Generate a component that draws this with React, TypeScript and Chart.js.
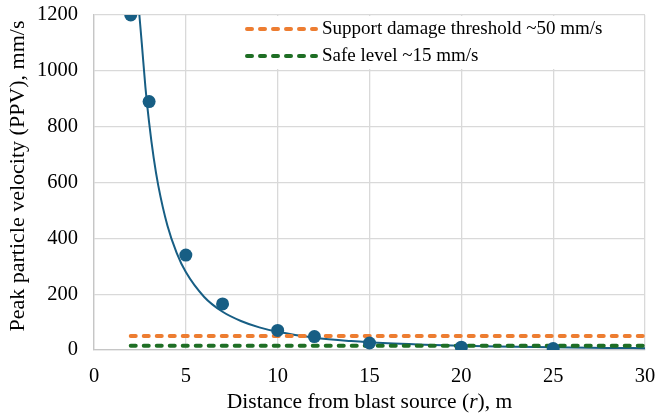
import React, { useEffect, useRef } from "react";
import { Chart, registerables } from "chart.js";

Chart.register(...registerables);

// Measured peak particle velocity at each distance
const distances = [2, 3, 5, 7, 10, 12, 15, 20, 25];
const ppvMeasured = [1200, 890, 340, 165, 70, 48, 25, 10, 5];

// Power-law trend curve samples (distance, PPV)
const trendR = [2.47, 2.6, 2.8, 3, 3.25, 3.5, 4, 4.5, 5, 6, 7, 8, 9, 10, 12, 14, 16, 18, 20, 22, 25, 28, 30];
const trendPPV = [1200, 1100, 941, 815, 688, 589, 445, 348, 279, 190, 137, 104, 81, 65, 44, 32, 24, 19, 15, 12.4, 9.5, 7.5, 6.5];

// Reference thresholds
const thresholdSpan = [2, 30];
const supportDamage = 50;
const safeLevel = 15;

const xTicks = [0, 5, 10, 15, 20, 25, 30];
const yTicks = [0, 200, 400, 600, 800, 1000, 1200];

const BLUE = "#175E84";
const ORANGE = "#ED7D31";
const GREEN = "#1E6E24";
const FONT = "'Liberation Serif', 'Times New Roman', serif";

// Inset legend for the two threshold lines, painted over the grid
const legendPlugin = {
  id: "insetLegend",
  beforeDatasetsDraw(chart: any) {
    const { ctx } = chart;
    const items = chart.data.datasets.filter((d: any) => d.inLegend);
    ctx.save();
    ctx.fillStyle = "#ffffff";
    ctx.fillRect(240, 16, 400, 53);
    items.forEach((d: any, i: number) => {
      const y = 29 + i * 27;
      ctx.strokeStyle = d.borderColor;
      ctx.lineWidth = d.borderWidth;
      ctx.lineCap = "round";
      ctx.setLineDash(d.borderDash);
      ctx.beginPath();
      ctx.moveTo(247, y);
      ctx.lineTo(316, y);
      ctx.stroke();
      ctx.setLineDash([]);
      ctx.fillStyle = "#000000";
      ctx.font = `19px ${FONT}`;
      ctx.textBaseline = "middle";
      ctx.textAlign = "left";
      ctx.fillText(d.label, 322, y);
    });
    ctx.restore();
  },
};

// Axis titles (the x title has an italic symbol)
const titlesPlugin = {
  id: "axisTitles",
  afterDraw(chart: any) {
    const { ctx, chartArea } = chart;
    ctx.save();
    ctx.fillStyle = "#000000";
    ctx.textBaseline = "middle";

    const parts = [
      { t: "Distance from blast source (", italic: false },
      { t: "r", italic: true },
      { t: "), m", italic: false },
    ];
    const size = 21.5;
    const fontOf = (it: boolean) => `${it ? "italic " : ""}${size}px ${FONT}`;
    let total = 0;
    parts.forEach((p) => {
      ctx.font = fontOf(p.italic);
      total += ctx.measureText(p.t).width;
    });
    let x = (chartArea.left + chartArea.right) / 2 - total / 2;
    ctx.textAlign = "left";
    parts.forEach((p) => {
      ctx.font = fontOf(p.italic);
      ctx.fillText(p.t, x, 402);
      x += ctx.measureText(p.t).width;
    });

    ctx.translate(18, 176);
    ctx.rotate(-Math.PI / 2);
    ctx.textAlign = "center";
    ctx.font = `22px ${FONT}`;
    ctx.fillText("Peak particle velocity (PPV), mm/s", 0, 0);
    ctx.restore();
  },
};

export default function App() {
  const ref = useRef<HTMLCanvasElement | null>(null);

  useEffect(() => {
    if (!ref.current) return;
    const chart = new Chart(ref.current, {
      type: "line",
      data: {
        datasets: [
          {
            label: "Measured",
            data: distances.map((x, i) => ({ x, y: ppvMeasured[i] })),
            showLine: false,
            pointRadius: 6.5,
            pointBackgroundColor: BLUE,
            pointBorderColor: BLUE,
            pointBorderWidth: 0,
            borderColor: BLUE,
            order: 0,
          },
          {
            label: "Support damage threshold ~50 mm/s",
            data: thresholdSpan.map((x) => ({ x, y: supportDamage })),
            borderColor: ORANGE,
            borderWidth: 4,
            borderDash: [5, 8],
            borderCapStyle: "round",
            pointRadius: 0,
            order: 1,
            inLegend: true,
          } as any,
          {
            label: "Safe level ~15 mm/s",
            data: thresholdSpan.map((x) => ({ x, y: safeLevel })),
            borderColor: GREEN,
            borderWidth: 4,
            borderDash: [5, 8],
            borderCapStyle: "round",
            pointRadius: 0,
            order: 1,
            inLegend: true,
          } as any,
          {
            label: "Trend",
            data: trendR.map((x, i) => ({ x, y: trendPPV[i] })),
            borderColor: BLUE,
            borderWidth: 2,
            pointRadius: 0,
            cubicInterpolationMode: "monotone",
            order: 2,
          },
        ],
      },
      options: {
        responsive: false,
        animation: false,
        layout: { padding: { left: 0, right: 16, top: 15, bottom: 0 } },
        plugins: {
          legend: { display: false },
          tooltip: { enabled: false },
        },
        scales: {
          x: {
            type: "linear",
            min: 0,
            max: 30,
            afterBuildTicks: (s: any) => {
              s.ticks = xTicks.map((v) => ({ value: v }));
            },
            afterFit: (s: any) => {
              s.height = 66;
              s.paddingLeft = 0;
              s.paddingRight = 0;
            },
            grid: { color: "#d9d9d9", lineWidth: 1.3, drawTicks: false },
            border: { color: "#c6c6c6", width: 1.3 },
            ticks: {
              color: "#000",
              font: { family: FONT, size: 20.5 },
              padding: 14,
              maxRotation: 0,
              callback: (v: any) => String(v),
            },
          },
          y: {
            type: "linear",
            min: 0,
            max: 1200,
            afterBuildTicks: (s: any) => {
              s.ticks = yTicks.map((v) => ({ value: v }));
            },
            afterFit: (s: any) => {
              s.width = 94;
              s.paddingTop = 0;
              s.paddingBottom = 0;
            },
            grid: { color: "#d9d9d9", lineWidth: 1.3, drawTicks: false },
            border: { color: "#c6c6c6", width: 1.3 },
            ticks: {
              color: "#000",
              font: { family: FONT, size: 20.5 },
              padding: 16,
              callback: (v: any) => String(v),
            },
          },
        },
      },
      plugins: [legendPlugin, titlesPlugin],
    });
    return () => chart.destroy();
  }, []);

  return (
    <div style={{ position: "fixed", left: 0, top: 0, width: 661, height: 416, background: "#fff" }}>
      <canvas ref={ref} width={661} height={416} style={{ display: "block" }} />
    </div>
  );
}
